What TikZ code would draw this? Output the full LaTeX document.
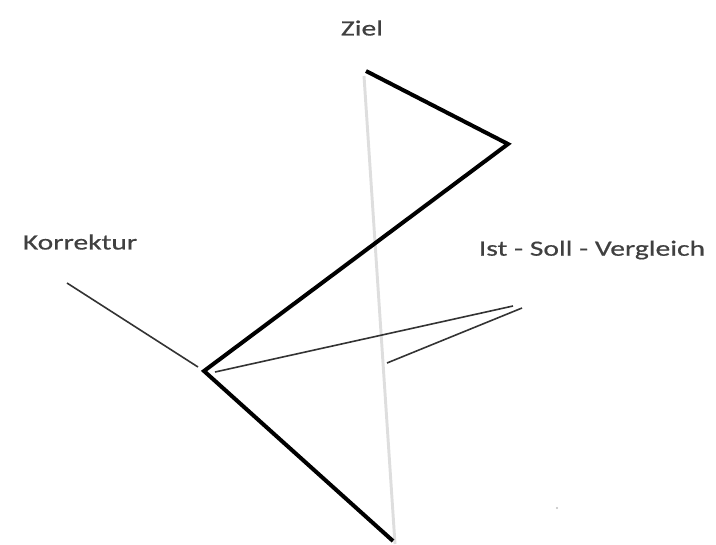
\documentclass[tikz,border=0pt]{standalone}
\usepackage{fontspec}
\setmainfont{Carlito}
\newfontfamily\lblfont[FakeStretch=1.36,FakeBold=0.6]{Carlito}
\begin{document}
\begin{tikzpicture}[x=0.75pt,y=-0.75pt,
  thickline/.style={line width=3pt,black,line join=miter,line cap=butt},
  thinline/.style={line width=1.2pt,black!80},
  grayline/.style={line width=2.2pt,black!13},
  lbl/.style={font=\lblfont\fontsize{16.3}{19}\selectfont,text=black!75,inner sep=0pt}]
\useasboundingbox (0,0) rectangle (716,544);
\coordinate (gtop) at (364,76);
\coordinate (gbot) at (395,544);
\coordinate (a) at (366,71);
\coordinate (b) at (508,144);
\coordinate (c) at (204,371);
\coordinate (d) at (393,541);
\coordinate (k1) at (67,283);
\coordinate (k2) at (198,367);
\coordinate (s1) at (215,372);
\coordinate (s2) at (513,306);
\coordinate (s3) at (522,308);
\coordinate (s4) at (387,363);
\draw[grayline] (gtop) -- (gbot);
\draw[thickline] (a) -- (b) -- (c) -- (d);
\draw[thinline] (k1) -- (k2);
\draw[thinline] (s1) -- (s2);
\draw[thinline] (s3) -- (s4);
\fill[black!25] (557,508) circle (1.2);
\node[lbl] (ziel) at (362,28) {Ziel};
\node[lbl] (korr) at (80,242) {Korrektur};
\node[lbl] (ist) at (592,250) {Ist - Soll - Vergleich};
\end{tikzpicture}
\end{document}
